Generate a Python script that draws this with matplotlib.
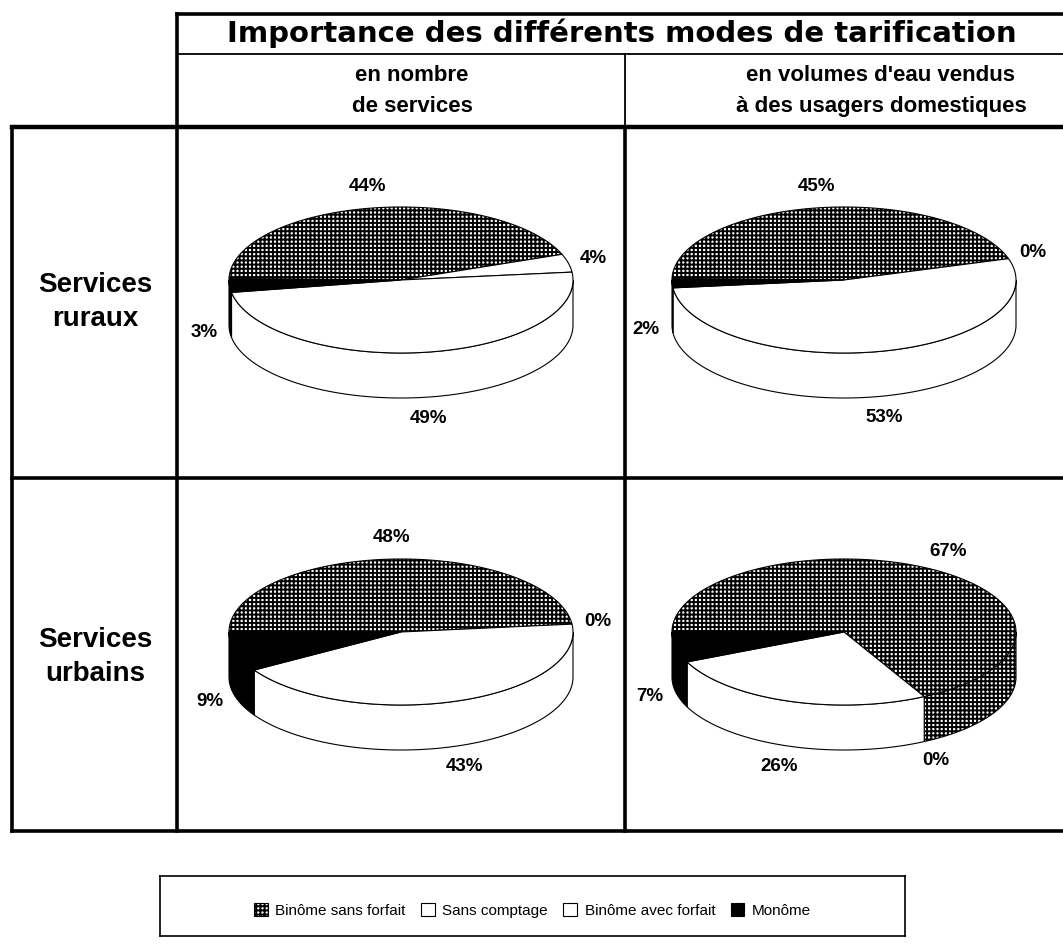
import numpy as np
import matplotlib
matplotlib.use("Agg")
import matplotlib.pyplot as plt
from matplotlib.patches import Polygon, Patch

plt.rcParams["font.family"] = ["Liberation Sans", "DejaVu Sans"]
plt.rcParams["hatch.linewidth"] = 1.4

# data
categories = ["Binôme sans forfait", "Sans comptage", "Binôme avec forfait", "Monôme"]
rural_number = [44, 4, 49, 3]
rural_volume = [45, 0, 53, 2]
urban_number = [48, 0, 43, 9]
urban_volume = [67, 0, 26, 7]

title = "Importance des différents modes de tarification"
col_headers = ["en nombre\nde services", "en volumes d'eau vendus\nà des usagers domestiques"]
row_headers = ["Services\nruraux", "Services\nurbains"]

# slice styles, same order as categories
styles = [
    dict(facecolor="white", hatch="++++"),
    dict(facecolor="white"),
    dict(facecolor="white"),
    dict(facecolor="black"),
]

W, H = 1063, 950
START = 179          # first slice starts at the left, goes clockwise
A, B, DEPTH = 172, 73, 45

fig = plt.figure(figsize=(W / 100, H / 100), dpi=100)

page = fig.add_axes([0, 0, 1, 1])
page.set_xlim(0, W)
page.set_ylim(H, 0)
page.axis("off")

# table grid (pixel layout)
xl, xc, xm, xr = 12, 177, 625, W
y0, yt, yh, yrow, yb = 14, 54, 127, 478, 831
thick, thin = 2.6, 1.3
page.plot([xc, xr], [y0, y0], color="black", lw=thick)
page.plot([xc, xr], [yt, yt], color="black", lw=thin)
page.plot([xl, xr], [yh, yh], color="black", lw=thick + 0.6)
page.plot([xl, xr], [yrow, yrow], color="black", lw=thick)
page.plot([xl, xr], [yb, yb], color="black", lw=thick)
page.plot([xl, xl], [yh, yb], color="black", lw=thick)
page.plot([xc, xc], [y0, yb], color="black", lw=thick)
page.plot([xm, xm], [yt, yh], color="black", lw=thin)
page.plot([xm, xm], [yh, yb], color="black", lw=thick)

page.text((xc + xr) / 2 + 2, 33, title, ha="center", va="center",
          fontsize=21, fontweight="bold", family="DejaVu Sans")
for x, txt in zip([412, 881], col_headers):
    page.text(x, 91, txt, ha="center", va="center", fontsize=16,
              fontweight="bold", linespacing=1.6)
for y, txt in zip([302, 657], row_headers):
    page.text(95, y, txt, ha="center", va="center", fontsize=20,
              fontweight="bold", linespacing=1.4)


def draw_pie(ax, values):
    total = sum(values)
    theta = START
    for val, st in zip(values, styles):
        sweep = 360.0 * val / total
        t1, t2 = theta - sweep, theta
        theta = t1
        mid = np.radians((t1 + t2) / 2)
        if sweep > 0:
            ts = np.radians(np.linspace(t1, t2, max(int(sweep * 2), 4)))
            top = np.column_stack([A * np.cos(ts), DEPTH / 2 + B * np.sin(ts)])
            pts = np.vstack([[0, DEPTH / 2], top])
            ax.add_patch(Polygon(pts, closed=True, edgecolor="black", lw=0.8,
                                 zorder=3, **st))
            # visible front wall
            for k in (-1, 0, 1):
                lo = max(t1, -180 + 360 * k)
                hi = min(t2, 360 * k)
                if hi <= lo:
                    continue
                ws = np.radians(np.linspace(lo, hi, max(int((hi - lo) * 2), 4)))
                up = np.column_stack([A * np.cos(ws), DEPTH / 2 + B * np.sin(ws)])
                dn = np.column_stack([A * np.cos(ws), -DEPTH / 2 + B * np.sin(ws)])
                wall = np.vstack([up, dn[::-1]])
                ax.add_patch(Polygon(wall, closed=True, edgecolor="black", lw=0.8,
                                     zorder=2, **st))
        lx = 1.15 * A * np.cos(mid)
        ly = DEPTH / 2 + 1.3 * B * np.sin(mid)
        if np.sin(mid) < 0:
            ly -= DEPTH
        ax.text(lx, ly, f"{val}%", ha="center", va="center", fontsize=13.5,
                fontweight="bold", zorder=4)


cells = [
    (rural_number, xc, xm, yh, yrow),
    (rural_volume, xm, xr, yh, yrow),
    (urban_number, xc, xm, yrow, yb),
    (urban_volume, xm, xr, yrow, yb),
]
for vals, x1, x2, ya, yz in cells:
    cw, ch = x2 - x1 - 6, yz - ya - 6
    ax = fig.add_axes([(x1 + 3) / W, 1 - (yz - 3) / H, cw / W, ch / H])
    ax.set_xlim(-cw / 2, cw / 2)
    ax.set_ylim(-ch / 2, ch / 2)
    ax.axis("off")
    draw_pie(ax, vals)

# legend box
lg = fig.add_axes([160 / W, 1 - 936 / H, 745 / W, 60 / H])
lg.set_xticks([])
lg.set_yticks([])
for s in lg.spines.values():
    s.set_linewidth(1.2)
handles = [Patch(edgecolor="black", lw=0.8, **st) for st in styles]
lg.legend(handles, categories, loc="center", bbox_to_anchor=(0.5, 0.42),
          ncol=4, frameon=False, fontsize=11, handlelength=0.9,
          handleheight=0.9, handletextpad=0.5, columnspacing=1.0)

fig.savefig("out.png", dpi=100)
